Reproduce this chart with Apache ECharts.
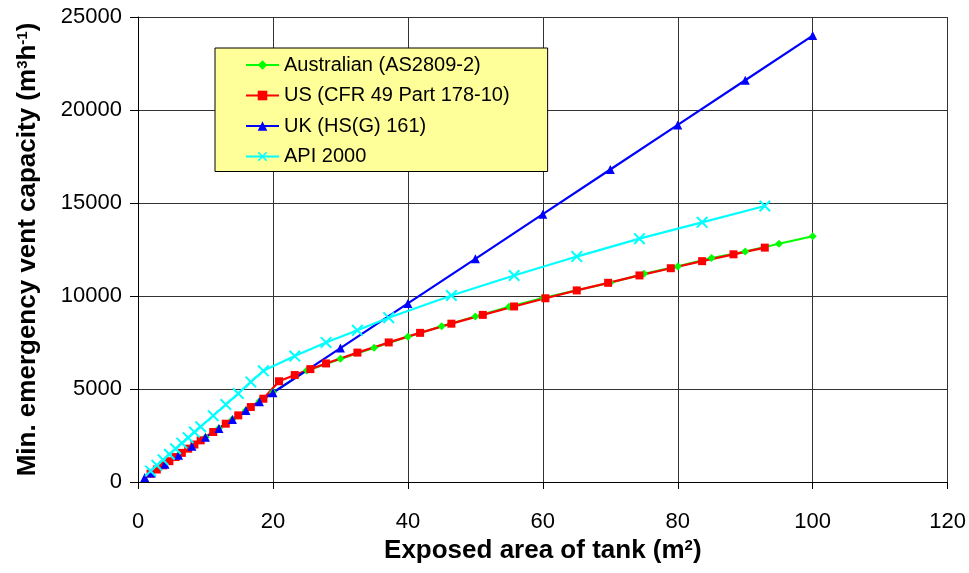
<!DOCTYPE html>
<html>
<head>
<meta charset="utf-8">
<script src="https://cdn.jsdelivr.net/npm/echarts@6/dist/echarts.min.js"></script>
<style>
  html, body { margin: 0; padding: 0; background: #fff; }
  #chart { width: 969px; height: 573px; }
</style>
</head>
<body>
<div id="chart"></div>
<script>
// exposed area (m2) and vent capacity (m3/h)
const ausArea = [2, 4, 6, 8, 10, 12, 14, 16, 18, 20, 25, 30, 35, 40, 45, 50, 55, 60, 65, 70, 75, 80, 85, 90, 95, 100]
const ausFlow = [482, 964, 1446, 1928, 2410, 2892, 3374, 3856, 4338, 4820, 5990, 6620, 7220, 7810, 8370, 8900, 9420, 9890, 10310, 10710, 11190, 11590, 12040, 12390, 12810, 13210]

const usArea = [1.86, 2.79, 3.72, 4.65, 5.57, 6.5, 7.43, 8.36, 9.29, 11.15, 13.01, 14.86, 16.72, 18.58, 20.9, 23.23, 25.55, 27.87, 32.52, 37.16, 41.81, 46.45, 51.1, 55.74, 60.39, 65.03, 69.68, 74.32, 78.97, 83.61, 88.26, 92.9]
const usFlow = [447, 671, 895, 1119, 1342, 1566, 1792, 2016, 2240, 2687, 3135, 3582, 4030, 4477, 5417, 5751, 6068, 6374, 6957, 7504, 8019, 8512, 8985, 9438, 9877, 10299, 10709, 11106, 11494, 11873, 12241, 12601]

const ukArea = [1, 2, 4, 6, 8, 10, 12, 14, 16, 18, 20, 30, 40, 50, 60, 70, 80, 90, 100]
const ukFlow = [240, 480, 960, 1440, 1920, 2400, 2880, 3360, 3840, 4320, 4800, 7200, 9600, 12000, 14400, 16800, 19200, 21600, 24000]

const apiArea = [1.86, 2.79, 3.72, 4.65, 5.57, 6.5, 7.43, 8.36, 9.29, 11.15, 13.01, 14.86, 16.72, 18.58, 23.23, 27.87, 32.52, 37.16, 46.45, 55.74, 65.03, 74.32, 83.61, 92.9]
const apiFlow = [597, 895, 1192, 1492, 1790, 2087, 2384, 2684, 2973, 3568, 4163, 4757, 5380, 5975, 6768, 7504, 8155, 8835, 10024, 11100, 12120, 13082, 13960, 14838]

const seriesNames = ['Australian (AS2809-2)', 'US (CFR 49 Part 178-10)', 'UK (HS(G) 161)', 'API 2000']

const font = 'Liberation Sans, Arial, sans-serif'
const crossPath = 'path://M0,1.2L1.2,0L10,8.8L8.8,10ZM8.8,0L10,1.2L1.2,10L0,8.8Z'

const pairs = (xs, ys) => xs.map((x, i) => [x, ys[i]])

const chart = echarts.init(document.getElementById('chart'), null, { renderer: 'canvas' })

const makeSeries = (name, data, color, symbol, size) => ({
  name: name,
  type: 'line',
  data: data,
  symbol: symbol,
  symbolSize: size,
  showAllSymbol: true,
  lineStyle: { color: color, width: 2.2 },
  itemStyle: { color: color },
  animation: false
})

// bold title with superscripts
const titleRich = {
  a: { fontFamily: font, fontSize: 26, fontWeight: 'bold', color: '#000' },
  s: { fontFamily: font, fontSize: 15, fontWeight: 'bold', color: '#000', verticalAlign: 'top' }
}

const option = {
  animation: false,
  grid: { left: 138, right: 21, top: 17, bottom: 91 },
  legend: {
    orient: 'vertical',
    left: 215,
    top: 48,
    padding: [7, 38, 5, 30],
    backgroundColor: '#FFFF99',
    borderColor: '#000',
    borderWidth: 1,
    borderRadius: 0,
    itemWidth: 33,
    itemHeight: 12,
    itemGap: 10.5,
    textStyle: { fontFamily: font, fontSize: 20, color: '#000' },
    data: seriesNames
  },
  xAxis: {
    type: 'value',
    min: 0,
    max: 120,
    interval: 20,
    name: '{a|Exposed area of tank (m}{s|2}{a|)}',
    nameLocation: 'middle',
    nameGap: 55,
    nameTextStyle: { rich: titleRich },
    axisLine: { lineStyle: { color: '#000', width: 1 } },
    axisTick: { inside: false, length: 7, lineStyle: { color: '#000' } },
    axisLabel: { fontFamily: font, fontSize: 22, color: '#000', margin: 29 },
    splitLine: { show: true, lineStyle: { color: '#333', width: 1 } }
  },
  yAxis: {
    type: 'value',
    min: 0,
    max: 25000,
    interval: 5000,
    name: '{a|Min. emergency vent capacity (m}{s|3}{a|h}{s|-1}{a|)}',
    nameLocation: 'middle',
    nameGap: 97,
    nameTextStyle: { rich: titleRich },
    axisLine: { show: true, lineStyle: { color: '#000', width: 1 } },
    axisTick: { show: true, inside: false, length: 8, lineStyle: { color: '#000' } },
    axisLabel: {
      fontFamily: font, fontSize: 22, color: '#000', margin: 16,
      formatter: v => String(v)
    },
    splitLine: { show: true, lineStyle: { color: '#333', width: 1 } }
  },
  series: [
    makeSeries(seriesNames[0], pairs(ausArea, ausFlow), '#00FF00', 'diamond', 8),
    makeSeries(seriesNames[1], pairs(usArea, usFlow), '#FF0000', 'rect', 8),
    makeSeries(seriesNames[2], pairs(ukArea, ukFlow), '#0000FF', 'triangle', 9),
    makeSeries(seriesNames[3], pairs(apiArea, apiFlow), '#00FFFF', crossPath, 12)
  ]
}

chart.setOption(option)
</script>
</body>
</html>
